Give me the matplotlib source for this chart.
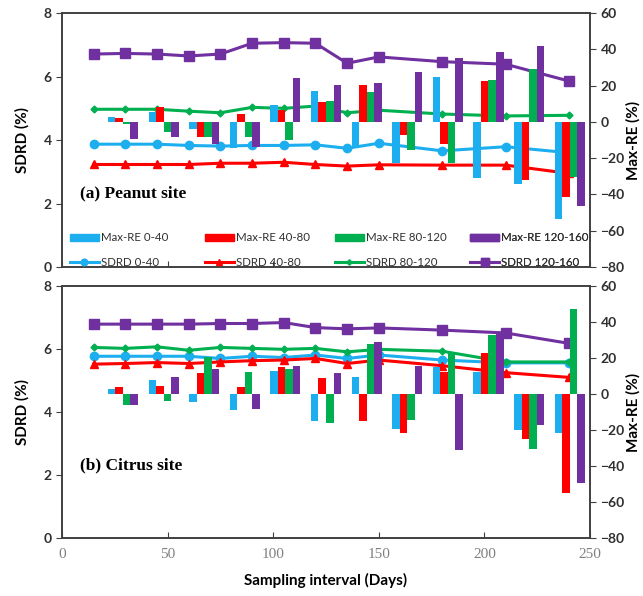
import numpy as np
import matplotlib
matplotlib.use("Agg")
import matplotlib.pyplot as plt
from matplotlib.lines import Line2D
from matplotlib.patches import Patch

### sampling days for the SDRD lines
days = [15, 30, 45, 60, 75, 90, 105, 120, 135, 150, 180, 210, 240]

### Max-RE bars sit on a 13 slot category axis (slot 0 empty)
n_slots = 13
bar_slots = np.arange(1, 13)

depths = ["0-40", "40-80", "80-120", "120-160"]
colors = ["#1DAEEF", "#FF0000", "#00B050", "#7030A0"]
markers = ["o", "^", "D", "s"]
msizes = [6, 6, 3.5, 7]

### (a) Peanut site
sd_a_0_40 = [3.87, 3.87, 3.87, 3.83, 3.81, 3.83, 3.83, 3.85, 3.74, 3.90, 3.66, 3.79, 3.60]
sd_a_40_80 = [3.23, 3.23, 3.23, 3.23, 3.27, 3.27, 3.30, 3.23, 3.18, 3.22, 3.21, 3.21, 2.95]
sd_a_80_120 = [4.97, 4.97, 4.97, 4.91, 4.86, 5.03, 5.00, 5.07, 4.86, 4.94, 4.82, 4.76, 4.78]
sd_a_120_160 = [6.71, 6.73, 6.71, 6.65, 6.71, 7.05, 7.07, 7.05, 6.42, 6.62, 6.47, 6.39, 5.86]

re_a_0_40 = [2.9, 5.7, -4.0, -14.5, 9.4, 17.0, -13.6, -22.7, 24.5, -30.9, -34.0, -53.3]
re_a_40_80 = [2.0, 8.1, -8.5, 4.2, 6.6, 11.2, 20.5, -7.3, -12.2, 22.7, -32.2, -41.3]
re_a_80_120 = [-1.0, -5.7, -8.5, -8.5, -9.9, 11.8, 16.4, -15.5, -22.7, 23.3, 29.1, -30.4]
re_a_120_160 = [-9.5, -8.5, -12.1, -14.0, 24.0, 20.4, 21.3, 27.8, 35.5, 38.7, 41.8, -46.4]

### (b) Citrus site
sd_b_0_40 = [5.77, 5.77, 5.77, 5.77, 5.70, 5.77, 5.73, 5.81, 5.70, 5.81, 5.65, 5.56, 5.56]
sd_b_40_80 = [5.52, 5.54, 5.57, 5.54, 5.59, 5.63, 5.65, 5.70, 5.54, 5.65, 5.47, 5.25, 5.10]
sd_b_80_120 = [6.05, 6.02, 6.07, 5.96, 6.05, 6.02, 5.99, 6.02, 5.91, 5.99, 5.93, 5.59, 5.59]
sd_b_120_160 = [6.79, 6.79, 6.79, 6.79, 6.81, 6.81, 6.84, 6.68, 6.64, 6.67, 6.60, 6.51, 6.18]

re_b_0_40 = [2.6, 7.8, -4.5, -8.9, 13.0, -14.8, 9.6, -19.7, 15.2, 12.1, -20.0, -21.5]
re_b_40_80 = [4.1, 4.6, 11.9, 4.1, 15.2, 9.1, -14.8, -21.5, 12.1, 23.0, -25.2, -54.9]
re_b_80_120 = [-6.1, -3.7, 20.4, 12.2, 13.7, -16.0, 27.8, -14.5, 23.6, 32.8, -30.8, 47.3]
re_b_120_160 = [-6.1, 9.6, 13.7, -8.5, 15.8, 11.5, 29.1, 15.6, -31.2, 34.7, -17.3, -49.4]

sans = ["Lato", "DejaVu Sans"]
serif = ["Liberation Serif", "DejaVu Serif"]
plt.rcParams["font.family"] = sans
axis_col = "#404040"

fig = plt.figure(figsize=(6.43, 5.96), dpi=100)
ax_a = fig.add_axes([0.0964, 0.552, 0.8212, 0.426])
ax_b = fig.add_axes([0.0964, 0.0973, 0.8212, 0.4228])

slot_w = 250 / n_slots
bar_w = slot_w * 0.185
group_x = (bar_slots + 0.5) * slot_w


def draw_panel(ax, sds, res, label):
    ax2 = ax.twinx()
    for i in range(4):
        ax.plot(days, sds[i], color=colors[i], lw=2.2, marker=markers[i],
                ms=msizes[i], label="SDRD " + depths[i])
        ax2.bar(group_x + (i - 1.5) * bar_w, res[i], width=bar_w,
                color=colors[i], label="Max-RE " + depths[i])
    ax.set_xlim(0, 250)
    ax.set_ylim(0, 8)
    ax.set_yticks([0, 2, 4, 6, 8])
    ax2.set_ylim(-80, 60)
    ax2.set_yticks(np.arange(-80, 61, 20))
    ax.set_xticks([0, 50, 100, 150, 200, 250])
    ax.tick_params(axis="x", direction="in", length=4, colors=axis_col)
    ax.tick_params(axis="y", direction="out", length=4, colors=axis_col,
                   labelsize=10)
    ax2.tick_params(axis="y", direction="out", length=4, colors=axis_col,
                    labelsize=10)
    for t in ax.get_yticklabels() + ax2.get_yticklabels():
        t.set_fontweight("bold")
        t.set_color("#303030")
    for a in (ax, ax2):
        for s in a.spines.values():
            s.set_color(axis_col)
            s.set_linewidth(1.2)
    ax.set_ylabel("SDRD (%)", fontsize=11, fontweight="bold", labelpad=10)
    ax2.set_ylabel("Max-RE (%)", fontsize=11, fontweight="bold", labelpad=1)
    ax.text(0.034, 0.29, label, transform=ax.transAxes, fontsize=12.5,
            fontweight="bold", family=serif, va="center")
    return ax2


ax2_a = draw_panel(ax_a, [sd_a_0_40, sd_a_40_80, sd_a_80_120, sd_a_120_160],
                   [re_a_0_40, re_a_40_80, re_a_80_120, re_a_120_160],
                   "(a) Peanut site")
ax2_b = draw_panel(ax_b, [sd_b_0_40, sd_b_40_80, sd_b_80_120, sd_b_120_160],
                   [re_b_0_40, re_b_40_80, re_b_80_120, re_b_120_160],
                   "(b) Citrus site")

ax_a.tick_params(axis="x", labelbottom=False)
ax_b.tick_params(axis="x", labelsize=11, pad=7)
for t in ax_b.get_xticklabels():
    t.set_family(serif)
    t.set_color("#808080")
ax_b.set_xlabel("Sampling interval (Days)", fontsize=11, fontweight="bold",
                labelpad=9)

### legend: equal width columns, bar on top, line below
col_x = [0.015, 0.271, 0.517, 0.773]
for i in range(4):
    handles = [Patch(color=colors[i], label="Max-RE " + depths[i]),
               Line2D([], [], color=colors[i], lw=2.2, marker=markers[i],
                      ms=msizes[i] * 0.8, label="SDRD " + depths[i])]
    leg = ax2_a.legend(handles=handles, loc="lower left",
                       bbox_to_anchor=(col_x[i], -0.002), frameon=False,
                       fontsize=8.3, handlelength=2.5, handleheight=0.55,
                       handletextpad=0.2, labelspacing=1.15,
                       borderpad=0, borderaxespad=0)
    for t in leg.get_texts():
        t.set_color("#303030")
    ax2_a.add_artist(leg)

fig.savefig("out.png", dpi=100)
